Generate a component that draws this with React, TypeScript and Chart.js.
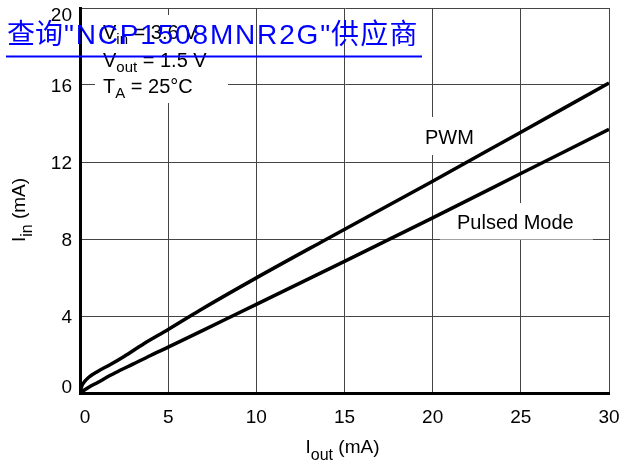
import React, { useEffect, useRef } from "react";
import { Chart, registerables } from "chart.js";

Chart.register(...registerables);

const FONT = "'Liberation Sans', Arial, Helvetica, sans-serif";

// Output current (mA) vs input current (mA)
const pwmIout = [0, 0.1, 0.25, 0.5, 1, 1.7, 2.5, 3.6, 5, 6.8, 10, 13.9, 20, 25, 30];
const pwmIin = [0, 0.35, 0.58, 0.82, 1.12, 1.47, 1.9, 2.55, 3.3, 4.3, 5.98, 7.95, 11.0, 13.55, 16.1];
const pulsedIout = [0, 0.5, 1, 2, 3, 4, 5, 7, 10, 15, 20, 25, 30];
const pulsedIin = [0, 0.3, 0.55, 1.05, 1.5, 1.95, 2.38, 3.27, 4.6, 6.84, 9.1, 11.4, 13.7];

const xTickValues = [0, 5, 10, 15, 20, 25, 30];
const yTickValues = [0, 4, 8, 12, 16, 20];
const seriesNames = ["PWM", "Pulsed Mode"];

type Part = { t: string; sub?: boolean };
const conditionLines: Part[][] = [
  [{ t: "V" }, { t: "in", sub: true }, { t: " = 3.6 V" }],
  [{ t: "V" }, { t: "out", sub: true }, { t: " = 1.5 V" }],
  [{ t: "T" }, { t: "A", sub: true }, { t: " = 25°C" }],
];
const xTitle: Part[] = [{ t: "I" }, { t: "out", sub: true }, { t: " (mA)" }];
const yTitle: Part[] = [{ t: "I" }, { t: "in", sub: true }, { t: " (mA)" }];
const watermarkParts = ["查询", "\"NCP1508MNR2G\"", "供应商"];

function partsWidth(ctx: CanvasRenderingContext2D, parts: Part[], size: number, subSize: number) {
  let w = 0;
  for (const p of parts) {
    ctx.font = `${p.sub ? subSize : size}px ${FONT}`;
    w += ctx.measureText(p.t).width;
  }
  return w;
}

function drawParts(
  ctx: CanvasRenderingContext2D,
  parts: Part[],
  x: number,
  y: number,
  size: number,
  subSize: number,
  subDy: number
) {
  let cx = x;
  for (const p of parts) {
    ctx.font = `${p.sub ? subSize : size}px ${FONT}`;
    ctx.fillText(p.t, cx, y + (p.sub ? subDy : 0));
    cx += ctx.measureText(p.t).width;
  }
}

const annotatePlugin = {
  id: "annotate",
  beforeDatasetsDraw(chart: any) {
    const ctx: CanvasRenderingContext2D = chart.ctx;
    const area = chart.chartArea;
    const xs = chart.scales.x;
    const ys = chart.scales.y;
    ctx.save();
    ctx.fillStyle = "#ffffff";
    ctx.fillRect(95, 15, 133, 88);
    ctx.fillRect(418, 117, 66, 38);
    ctx.fillRect(440, 203, 153, 36.5);

    ctx.fillStyle = "#000000";
    ctx.textBaseline = "alphabetic";

    // tick labels, placed from the library's scales
    ctx.font = `19px ${FONT}`;
    ctx.textAlign = "center";
    xTickValues.forEach((v, i) => {
      const px = xs.getPixelForValue(v) + (i === 0 ? 5 : 0);
      ctx.fillText(String(v), px, 423);
    });
    ctx.textAlign = "right";
    yTickValues.forEach((v, i) => {
      let py = ys.getPixelForValue(v) + 7;
      if (i === 0) py -= 7;
      if (i === yTickValues.length - 1) py += 6;
      ctx.fillText(String(v), 72, py);
    });

    ctx.textAlign = "left";
    const baselines = [39, 67, 93];
    conditionLines.forEach((line, i) => drawParts(ctx, line, 103, baselines[i], 20, 15, 5));

    ctx.font = `20px ${FONT}`;
    ctx.fillText(seriesNames[0], 425, 144);
    ctx.fillText(seriesNames[1], 457, 229);

    // x axis title
    const xw = partsWidth(ctx, xTitle, 19, 16);
    drawParts(ctx, xTitle, (area.left + area.right) / 2 - xw / 2 - 2, 453, 19, 16, 7);

    // y axis title
    const yw = partsWidth(ctx, yTitle, 19, 16);
    ctx.translate(25, 210 + yw / 2);
    ctx.rotate(-Math.PI / 2);
    drawParts(ctx, yTitle, 0, 0, 19, 16, 7);
    ctx.restore();
  },
  afterDraw(chart: any) {
    const ctx: CanvasRenderingContext2D = chart.ctx;
    ctx.save();
    ctx.fillStyle = "#0000ff";
    ctx.textAlign = "left";
    ctx.textBaseline = "alphabetic";
    ctx.font = `28px 'Liberation Sans', 'Noto Sans CJK SC', sans-serif`;
    let x = 7;
    const y = 43.5;
    ctx.fillText(watermarkParts[0], x, y);
    x += ctx.measureText(watermarkParts[0]).width;
    const latin = watermarkParts[1];
    const natural = ctx.measureText(latin).width;
    const target = 268;
    const spacing = (target - natural) / latin.length;
    for (const ch of latin) {
      ctx.fillText(ch, x + spacing / 2, y);
      x += ctx.measureText(ch).width + spacing;
    }
    const cjk = watermarkParts[2];
    for (const ch of cjk) {
      ctx.fillText(ch, x, y);
      x += ctx.measureText(ch).width + 1.3;
    }
    ctx.fillRect(6, 55.5, 416, 2);
    ctx.restore();
  },
};

export default function App() {
  const canvasRef = useRef<HTMLCanvasElement | null>(null);

  useEffect(() => {
    const canvas = canvasRef.current;
    if (!canvas) return;
    const chart = new Chart(canvas, {
      type: "scatter",
      data: {
        datasets: [
          {
            label: seriesNames[0],
            data: pwmIout.map((x, i) => ({ x, y: pwmIin[i] })),
            showLine: true,
            borderColor: "#000000",
            borderWidth: 3.5,
            pointRadius: 0,
            cubicInterpolationMode: "monotone",
          },
          {
            label: seriesNames[1],
            data: pulsedIout.map((x, i) => ({ x, y: pulsedIin[i] })),
            showLine: true,
            borderColor: "#000000",
            borderWidth: 3.5,
            pointRadius: 0,
            cubicInterpolationMode: "monotone",
          },
        ],
      },
      options: {
        responsive: false,
        animation: false,
        devicePixelRatio: 1,
        layout: { padding: { left: 0, right: 15, top: 8, bottom: 0 } },
        plugins: {
          legend: { display: false },
          tooltip: { enabled: false },
        },
        scales: {
          x: {
            type: "linear",
            min: 0,
            max: 30,
            afterBuildTicks: (s: any) => {
              s.ticks = xTickValues.map((v) => ({ value: v }));
            },
            afterFit: (s: any) => {
              s.height = 71;
              s.paddingLeft = 0;
              s.paddingRight = 0;
            },
            ticks: { display: false },
            grid: { color: "#444444", lineWidth: 1, drawTicks: false },
            border: { display: true, color: "#000000", width: 3 },
          },
          y: {
            type: "linear",
            min: 0,
            max: 20,
            afterBuildTicks: (s: any) => {
              s.ticks = yTickValues.map((v) => ({ value: v }));
            },
            afterFit: (s: any) => {
              s.width = 80;
              s.paddingTop = 0;
              s.paddingBottom = 0;
            },
            ticks: { display: false },
            grid: { color: "#444444", lineWidth: 1, drawTicks: false },
            border: { display: true, color: "#000000", width: 3 },
          },
        },
      },
      plugins: [annotatePlugin],
    });
    return () => chart.destroy();
  }, []);

  return (
    <div style={{ position: "fixed", left: 0, top: 0, width: 624, height: 464, background: "#ffffff" }}>
      <canvas ref={canvasRef} width={624} height={464} style={{ display: "block" }} />
    </div>
  );
}
